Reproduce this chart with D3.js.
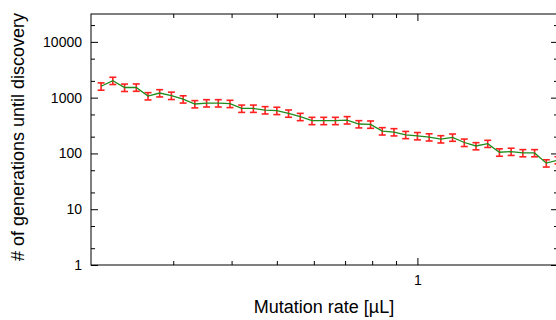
<!DOCTYPE html>
<html><head><meta charset="utf-8">
<script src="https://cdn.jsdelivr.net/npm/d3@7"></script>
<style>
body{margin:0;background:#fff;}
svg{display:block;font-family:"Liberation Sans",Arial,sans-serif;}
</style></head>
<body><svg id="c" width="556" height="320"></svg>
<script>
// Mutation rate values (x)
const rates = [0.2102,0.2227,0.2360,0.25,0.2649,0.2806,0.2973,0.3150,0.3337,0.3536,
  0.3746,0.3969,0.4204,0.4454,0.4719,0.5,0.5297,0.5612,0.5946,0.6300,
  0.6674,0.7071,0.7492,0.7937,0.8409,0.8909,0.9439,1.0,1.0595,1.1225,
  1.1892,1.2599,1.3348,1.4142,1.4983,1.5874,1.6818,1.7818,1.8877,2.0];
// Generations until discovery (y)
const generations = [1600,2020,1520,1530,1070,1210,1090,940,770,800,
  800,780,640,640,600,585,523,455,386,386,
  386,397,337,332,252,242,216,206,196,181,
  194,157,136,150,105,108,102,102,67,76];
// Error (absolute) for each point
const errors = [240,300,230,230,160,180,165,140,115,120,
  120,117,96,96,90,88,78,68,58,58,
  58,60,50,50,38,36,32,31,29,27,
  29,24,20,22,16,16,15,15,10,11];
const yMajorTicks = [1,10,100,1000,10000];
const yMinorTicks = [2,5,20,50,200,500,2000,5000,20000];
const xMajorTicks = [1];
const xMinorTicks = [0.3,0.4,0.5,0.6,0.7,0.8,0.9];

const svg = d3.select("#c");
const L=91, R=558, T=14, B=265;
const x = d3.scaleLog().domain([0.2,2]).range([L,R]);
const y = d3.scaleLog().domain([1,31600]).range([B,T]);

const data = rates.map((r,i)=>({x:r,y:generations[i],e:errors[i]}));

// axes
function styleAxis(g){
  g.select(".domain").remove();
  g.selectAll("line").attr("stroke","#000");
  g.selectAll("text").attr("fill","#000").attr("font-size","14px");
}
svg.append("g").attr("transform",`translate(${L},0)`)
  .call(d3.axisLeft(y).tickValues(yMajorTicks).tickSize(-7).tickPadding(9).tickFormat(d3.format("d")))
  .call(styleAxis);
svg.append("g").attr("transform",`translate(${L},0)`)
  .call(d3.axisLeft(y).tickValues(yMinorTicks).tickSize(-4).tickFormat(""))
  .call(styleAxis);
svg.append("g").attr("transform",`translate(${R},0)`)
  .call(d3.axisRight(y).tickValues(yMajorTicks).tickSize(-7).tickFormat(""))
  .call(styleAxis);
svg.append("g").attr("transform",`translate(${R},0)`)
  .call(d3.axisRight(y).tickValues(yMinorTicks).tickSize(-4).tickFormat(""))
  .call(styleAxis);
svg.append("g").attr("transform",`translate(0,${B})`)
  .call(d3.axisBottom(x).tickValues(xMajorTicks).tickSize(-7).tickPadding(10).tickFormat(d3.format("d")))
  .call(styleAxis);
svg.append("g").attr("transform",`translate(0,${B})`)
  .call(d3.axisBottom(x).tickValues(xMinorTicks).tickSize(-4).tickFormat(""))
  .call(styleAxis);
svg.append("g").attr("transform",`translate(0,${T})`)
  .call(d3.axisTop(x).tickValues(xMajorTicks).tickSize(-7).tickFormat(""))
  .call(styleAxis);
svg.append("g").attr("transform",`translate(0,${T})`)
  .call(d3.axisTop(x).tickValues(xMinorTicks).tickSize(-4).tickFormat(""))
  .call(styleAxis);

// frame
svg.append("rect").attr("x",L).attr("y",T).attr("width",R-L).attr("height",B-T)
  .attr("fill","none").attr("stroke","#000").attr("stroke-width",1);

// error bars
const eb = svg.append("g").attr("stroke","#ff2020").attr("stroke-width",1.6).attr("fill","none");
data.forEach(d=>{
  const cx=x(d.x), y0=y(d.y-d.e), y1=y(d.y+d.e);
  eb.append("line").attr("x1",cx).attr("x2",cx).attr("y1",y0).attr("y2",y1);
  eb.append("line").attr("x1",cx-3.5).attr("x2",cx+3.5).attr("y1",y0).attr("y2",y0);
  eb.append("line").attr("x1",cx-3.5).attr("x2",cx+3.5).attr("y1",y1).attr("y2",y1);
});

// line
svg.append("path").datum(data)
  .attr("fill","none").attr("stroke","#1e8c1e").attr("stroke-width",1.3)
  .attr("d",d3.line().x(d=>x(d.x)).y(d=>y(d.y)));

// axis labels
svg.append("text").attr("x",324).attr("y",313).attr("text-anchor","middle")
  .attr("font-size","18px").attr("fill","#000").text("Mutation rate [µL]");
svg.append("text").attr("transform","translate(24,137) rotate(-90)").attr("text-anchor","middle")
  .attr("font-size","18px").attr("fill","#000").text("# of generations until discovery");
</script></body></html>
